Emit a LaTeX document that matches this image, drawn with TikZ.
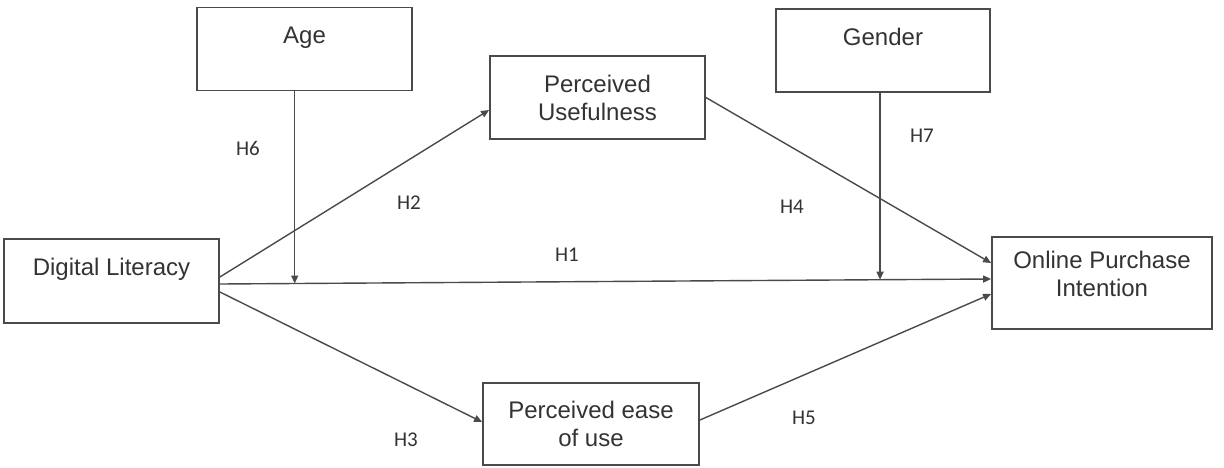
\documentclass[tikz,border=0pt]{standalone}
\usepackage{fontspec}
\setmainfont{Liberation Sans}
\newfontfamily\hfont{Carlito}
\usetikzlibrary{calc,arrows.meta,positioning}
\definecolor{linec}{HTML}{4A4A4A}
\definecolor{textc}{HTML}{333333}
\tikzset{
  ar/.style={-{Triangle[length=8pt,width=7pt]},line width=1.4pt,linec},
  box/.style={draw=linec,line width=1.8pt,align=center,minimum width=215pt,minimum height=83pt,inner sep=2pt,font=\fontsize{24}{28}\selectfont,text=textc},
  hlab/.style={font=\hfont\fontsize{21}{25}\selectfont,text=textc}
}

\begin{document}
\begin{tikzpicture}[x=1pt,y=-1pt]
\useasboundingbox (0,0) rectangle (1224,468);
% boxes
\node[box] (age) at (304.5,49) {Age\\~};
\node[box,minimum width=214pt] (gender) at (883,50.5) {Gender\\~};
\node[box] (pu) at (597.5,97.5) {Perceived\\Usefulness};
\node[box,minimum height=84pt] (dl) at (111.5,281) {Digital Literacy\\~};
\node[box,minimum width=220pt,minimum height=92pt] (opi) at (1102,283) {Online Purchase\\Intention\\[-10pt]~};
\node[box,minimum width=216pt,minimum height=82pt] (peou) at (591,424) {Perceived ease\\of use};
% paths
\coordinate (h1s) at ([yshift=-3pt]dl.east);
\coordinate (h1e) at ([yshift=4pt]opi.west);
\coordinate (ma) at ($(h1s)!0.097!(h1e)$);
\coordinate (mg) at ($(h1s)!0.856!(h1e)$);
\draw[ar] (h1s) -- (h1e);
\draw[ar] ([yshift=4pt]dl.east) -- ([yshift=-12.5pt]pu.west);
\draw[ar] ([yshift=-11pt]dl.east) -- ([yshift=2pt]peou.west);
\draw[ar] (pu.east) -- ([yshift=20pt]opi.west);
\draw[ar] ([yshift=4pt]peou.east) -- ([yshift=-11pt]opi.west);
\draw[ar] (age.south -| ma) -- (ma);
\draw[ar] (gender.south -| mg) -- (mg);
% hypotheses
\node[hlab] (h6) at (248,148) {H6};
\node[hlab] (h2) at (409,203) {H2};
\node[hlab] (h1) at (567,255) {H1};
\node[hlab] (h4) at (792,207) {H4};
\node[hlab] (h7) at (922,136) {H7};
\node[hlab] (h3) at (406,440) {H3};
\node[hlab] (h5) at (804,418) {H5};
\end{tikzpicture}
\end{document}
